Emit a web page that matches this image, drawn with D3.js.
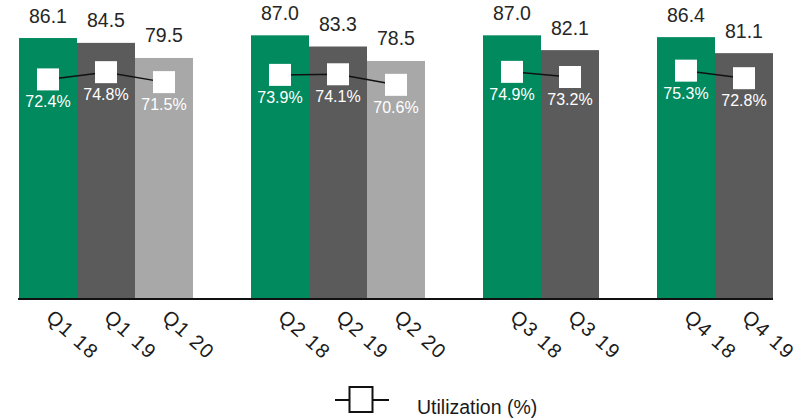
<!DOCTYPE html>
<html>
<head>
<meta charset="utf-8">
<script src="https://cdn.jsdelivr.net/npm/d3@7"></script>
<style>
  html, body { margin: 0; padding: 0; background: #ffffff; }
  svg { display: block; font-family: "Liberation Sans", Arial, sans-serif; }
</style>
</head>
<body>
<svg id="chart" width="808" height="419"></svg>
<script>
// Quarterly bars (value) with utilization overlay, grouped by quarter
const labels      = ["Q1 18", "Q1 19", "Q1 20", "Q2 18", "Q2 19", "Q2 20", "Q3 18", "Q3 19", "Q4 18", "Q4 19"];
const quarters    = ["Q1", "Q1", "Q1", "Q2", "Q2", "Q2", "Q3", "Q3", "Q4", "Q4"];
const years       = ["18", "19", "20", "18", "19", "20", "18", "19", "18", "19"];
const values      = [86.1, 84.5, 79.5, 87.0, 83.3, 78.5, 87.0, 82.1, 86.4, 81.1];
const utilization = [72.4, 74.8, 71.5, 73.9, 74.1, 70.6, 74.9, 73.2, 75.3, 72.8];
const yearColors  = { "18": "#008a5e", "19": "#5b5b5b", "20": "#a8a8a8" };
const legendLabel = "Utilization (%)";

const svg = d3.select("#chart");

const rows = labels.map((l, i) => ({
  label: l, quarter: quarters[i], year: years[i],
  value: values[i], util: utilization[i]
}));

// slot list: one slot per bar, plus an empty spacer slot between quarters
const slots = [];
rows.forEach((r, i) => {
  if (i > 0 && rows[i - 1].quarter !== r.quarter) slots.push("gap-" + i);
  slots.push(r.label);
});

const x = d3.scaleBand().domain(slots).range([19, 773]).padding(0);
const y = d3.scaleLinear().domain([0, 98.7]).range([298, 0]);

// bars
svg.append("g").selectAll("rect")
  .data(rows).join("rect")
  .attr("x", d => x(d.label))
  .attr("y", d => y(d.value))
  .attr("width", x.bandwidth())
  .attr("height", d => y(0) - y(d.value))
  .attr("fill", d => yearColors[d.year]);

// bar value labels
svg.append("g").selectAll("text")
  .data(rows).join("text")
  .attr("x", d => x(d.label) + x.bandwidth() / 2)
  .attr("y", d => y(d.value) - 15.5)
  .attr("text-anchor", "middle")
  .attr("font-size", 19.5)
  .attr("fill", "#262626")
  .text(d => d.value.toFixed(1));

// x axis baseline
const xAxis = d3.axisBottom(x).tickSize(0).tickFormat("");
const axisG = svg.append("g").attr("transform", `translate(0,${y(0) + 1})`).call(xAxis);
axisG.select(".domain").attr("stroke", "#111").attr("stroke-width", 2)
  .attr("d", `M18,0H773`);

// rotated category labels
svg.append("g").selectAll("text")
  .data(rows).join("text")
  .attr("transform", d => `translate(${x(d.label) + x.bandwidth() / 2 - 3},${y(0) + 21}) rotate(42)`)
  .attr("text-anchor", "start")
  .attr("font-size", 20)
  .attr("letter-spacing", 1.5)
  .attr("fill", "#1a1a1a")
  .text(d => d.label);

// utilization line, one segment set per quarter
const line = d3.line()
  .x(d => x(d.label) + x.bandwidth() / 2)
  .y(d => y(d.util));
const byQuarter = d3.groups(rows, d => d.quarter);
svg.append("g").selectAll("path")
  .data(byQuarter).join("path")
  .attr("d", d => line(d[1]))
  .attr("fill", "none")
  .attr("stroke", "#111")
  .attr("stroke-width", 1.5);

// square markers
const ms = 22;
svg.append("g").selectAll("rect")
  .data(rows).join("rect")
  .attr("x", d => x(d.label) + x.bandwidth() / 2 - ms / 2)
  .attr("y", d => y(d.util) - ms / 2)
  .attr("width", ms)
  .attr("height", ms)
  .attr("fill", "#ffffff");

// utilization labels
svg.append("g").selectAll("text")
  .data(rows).join("text")
  .attr("x", d => x(d.label) + x.bandwidth() / 2)
  .attr("y", d => y(d.util) + 28)
  .attr("text-anchor", "middle")
  .attr("font-size", 16)
  .attr("fill", "#ffffff")
  .text(d => d.util.toFixed(1) + "%");

// legend
const lg = svg.append("g");
lg.append("line").attr("x1", 335).attr("x2", 389).attr("y1", 400).attr("y2", 400)
  .attr("stroke", "#111").attr("stroke-width", 2);
lg.append("rect").attr("x", 349.5).attr("y", 387).attr("width", 23).attr("height", 25)
  .attr("fill", "#fff").attr("stroke", "#111").attr("stroke-width", 2);
lg.append("text").attr("x", 417).attr("y", 414)
  .attr("font-size", 19.5).attr("fill", "#1a1a1a").text(legendLabel);
</script>
</body>
</html>
